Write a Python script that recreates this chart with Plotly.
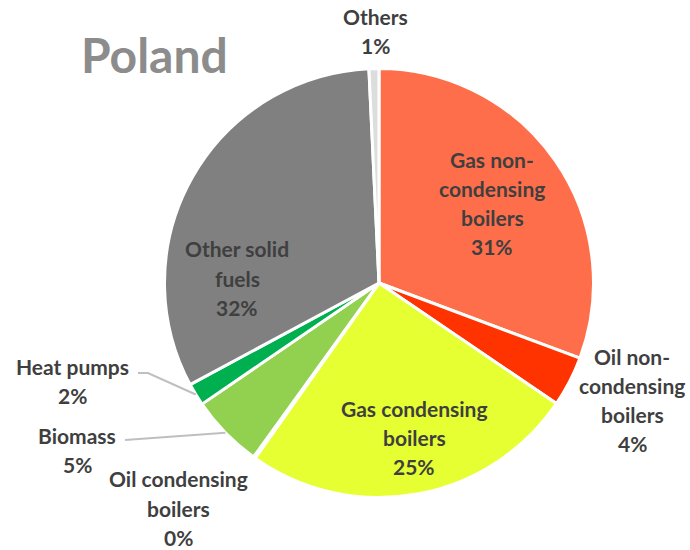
import math
import plotly.graph_objects as go

# ---- data ----
categories = ["Gas non-condensing boilers", "Oil non-condensing boilers",
              "Gas condensing boilers", "Oil condensing boilers",
              "Biomass", "Heat pumps", "Other solid fuels", "Others"]
label_lines = [["Gas non-", "condensing", "boilers"], ["Oil non-", "condensing", "boilers"],
               ["Gas condensing", "boilers"], ["Oil condensing", "boilers"],
               ["Biomass"], ["Heat pumps"], ["Other solid", "fuels"], ["Others"]]
values = [30.7, 3.8, 25.3, 0.15, 5.5, 1.7, 32.1, 0.75]
pct_labels = ["31%", "4%", "25%", "0%", "5%", "2%", "32%", "1%"]
colors = ["#FF6E4A", "#FF3300", "#E6FF33", "#FFC000",
          "#92D050", "#00B050", "#808080", "#DDDDDD"]

# ---- layout (pixels) ----
W, H = 690, 550
cx, cy, R = 379, 283, 214.5
label_pos = [(492, 203), (632, 400), (414, 437), (178, 508),
             (77, 450), (72, 381), (237, 278), (375, 31)]
line_gap = 29
leaders = {4: (125, 440), 5: (138, 373)}   # label end of leader lines
elbow = {5: (148, 373)}

fig = go.Figure(go.Pie(
    labels=categories, values=values, sort=False, direction="clockwise",
    rotation=0, textinfo="none", hoverinfo="label+percent",
    marker=dict(colors=colors, line=dict(color="white", width=3)),
    domain=dict(x=[(cx - R) / W, (cx + R) / W], y=[1 - (cy + R) / H, 1 - (cy - R) / H]),
    showlegend=False,
))

def px(x, y):
    return x / W, 1 - y / H

ann = []
for i, (x, y) in enumerate(label_pos):
    lines = label_lines[i] + [pct_labels[i]]
    n = len(lines)
    for k, t in enumerate(lines):
        ly = y + (k - (n - 1) / 2) * line_gap
        ax, ay = px(x, ly)
        ann.append(dict(x=ax, y=ay, xref="paper", yref="paper", xanchor="center", yanchor="middle",
                        text="<b>" + t + "</b>", showarrow=False,
                        font=dict(family="Lato", size=21, color="#3F3F3F")))
ann.append(dict(x=px(154, 55)[0], y=px(154, 55)[1], xref="paper", yref="paper",
                xanchor="center", yanchor="middle", text="<b>Poland</b>", showarrow=False,
                font=dict(family="Lato", size=48, color="#8C8C8C")))

total = sum(values)
cum = 0
shapes = []
for i, v in enumerate(values):
    mid = (cum + v / 2) / total * 2 * math.pi
    cum += v
    if i in leaders:
        ex, ey = cx + R * math.sin(mid), cy - R * math.cos(mid)
        pts = [leaders[i]] + ([elbow[i]] if i in elbow else []) + [(ex, ey)]
        path = "M " + " L ".join(f"{px(a, b)[0]},{px(a, b)[1]}" for a, b in pts)
        shapes.append(dict(type="path", path=path, xref="paper", yref="paper",
                           line=dict(color="#BFBFBF", width=2)))

fig.update_layout(width=W, height=H, margin=dict(l=0, r=0, t=0, b=0),
                  paper_bgcolor="white", plot_bgcolor="white",
                  annotations=ann, shapes=shapes)
fig.write_html("out.html", config={"displayModeBar": False},
               post_script="document.body.style.margin='0';")
